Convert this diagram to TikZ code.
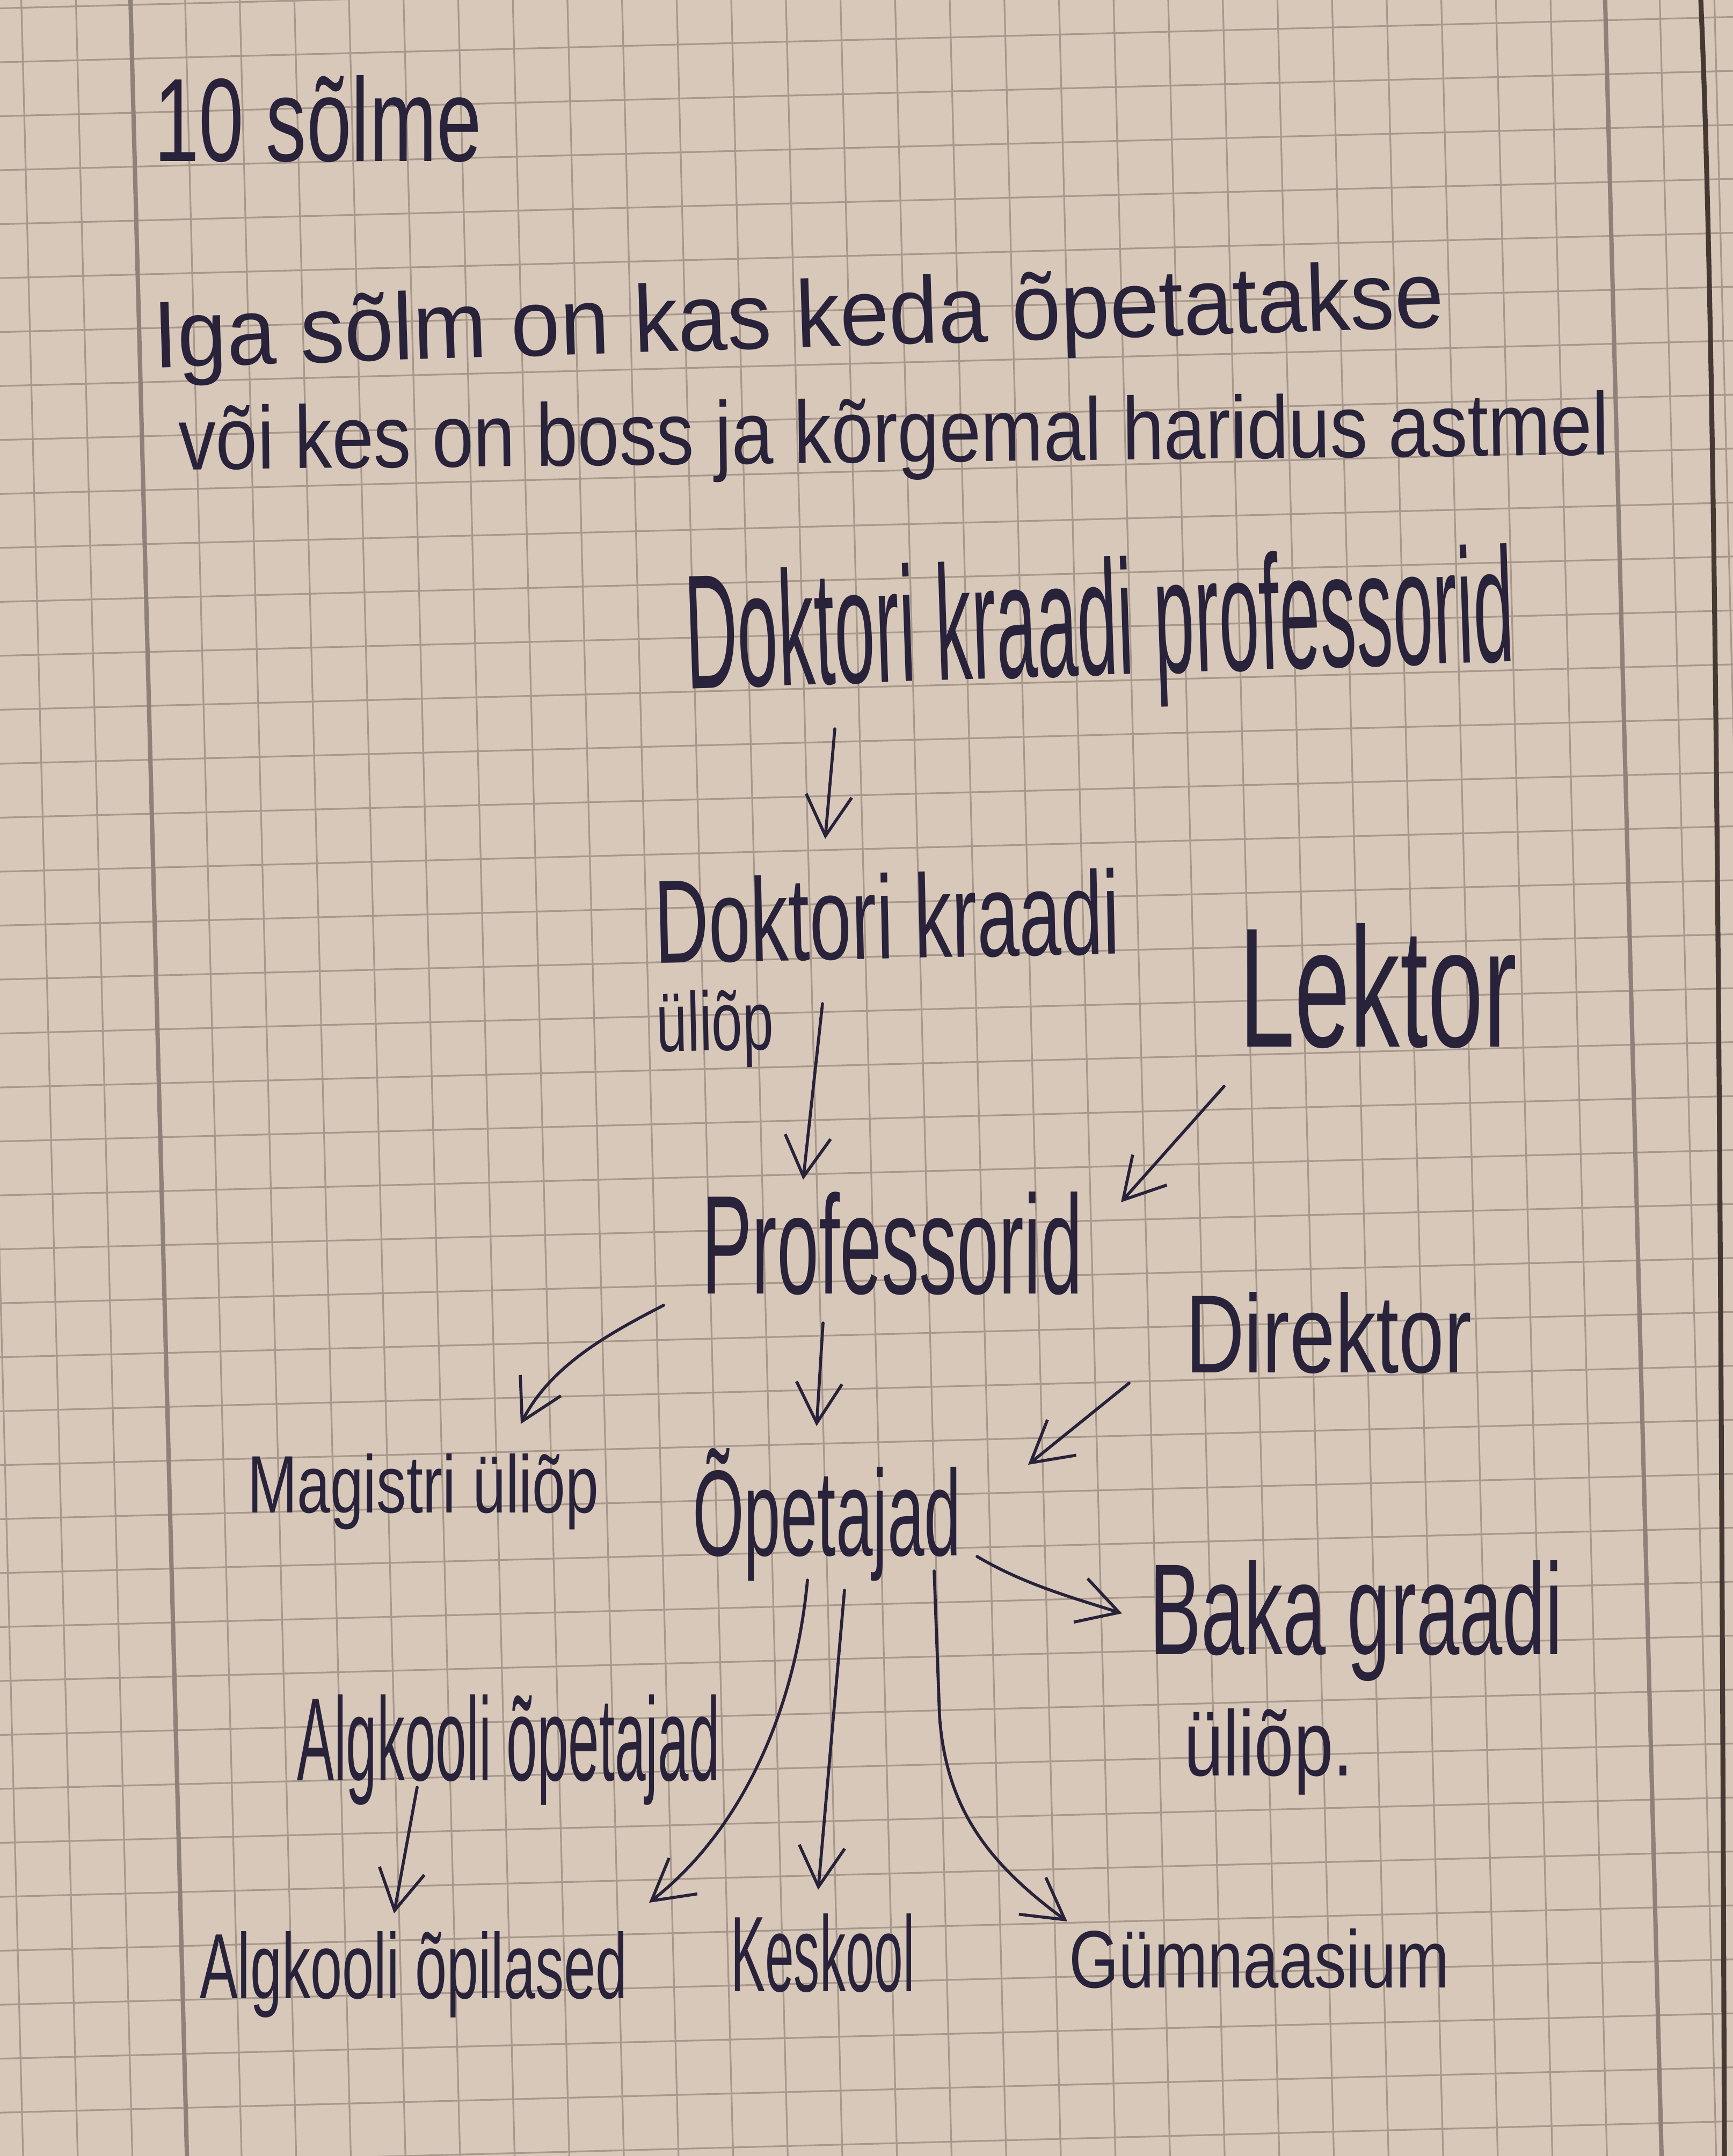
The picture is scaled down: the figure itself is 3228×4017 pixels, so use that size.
\documentclass[tikz,border=0pt]{standalone}
\usepackage{fontspec}
\usepackage{graphicx}
\setmainfont{Liberation Sans}
\usetikzlibrary{arrows.meta,calc}
\definecolor{paper}{RGB}{215,200,185}
\definecolor{gridc}{RGB}{168,152,140}
\definecolor{ink}{RGB}{40,34,58}
\definecolor{edgec}{RGB}{70,56,50}
\newlength\pxu
\setlength\pxu{0.01cm}
\newcommand{\hw}[3]{\resizebox{#1\pxu}{#2\pxu}{#3}}
\tikzset{
  txt/.style={ink, inner sep=0pt, outer sep=0pt, font=\fontsize{10}{12}\selectfont},
  arr/.style={ink, line width=1.6pt, line cap=round, -{Straight Barb[length=0.75cm,width=0.85cm]}},
  gridline/.style={gridc, line width=0.9pt},
  marginline/.style={gridc!85!black, line width=2.3pt}
}
\begin{document}
\begin{tikzpicture}[x=0.01cm,y=-0.01cm]
\useasboundingbox (0,0) rectangle (3228,4017);
\fill[paper] (0,0) rectangle (3228,4017);
% grid paper
\begin{scope}
\clip (0,0) rectangle (3228,4017);
\begin{scope}[rotate=1.5]
\foreach \k in {-4,...,32} \draw[gridline] ({243+101.7*\k},-400) -- ({243+101.7*\k},4500);
\foreach \k in {-4,...,44} \draw[gridline] (-400,{15.5+100.5*\k}) -- (3700,{15.5+100.5*\k});
\draw[marginline] (243,-400) -- (243,4500);
\draw[marginline] ({243+101.7*27},-400) -- ({243+101.7*27},4500);
\end{scope}
\draw[edgec, line width=2.6pt] (3168,0) .. controls (3195,600) and (3205,2000) .. (3212,4017);
\end{scope}

% texts
\node[txt, anchor=base west] (title) at (287,300) {\hw{610}{160}{10 sõlme}};
\node[txt, anchor=base west, rotate=1.8] (l1) at (287,685) {\hw{2405}{128}{Iga sõlm on kas keda õpetatakse}};
\node[txt, anchor=base west, rotate=0.6] (l2) at (333,875) {\hw{2665}{120}{või kes on boss ja kõrgemal haridus astmel}};

\node[txt, anchor=base west, rotate=1.9] (dkp) at (1279,1283) {\hw{1545}{220}{Doktori kraadi professorid}};
\node[txt, anchor=north west, rotate=1.2] (dku) at (1217,1635) {\begin{tabular}{@{}l@{}}\hw{867}{160}{Doktori kraadi}\\[39\pxu]\hw{218}{113}{üliõp}\end{tabular}};
\node[txt, anchor=base west] (lek) at (2308,1950) {\hw{517}{230}{Lektor}};
\node[txt, anchor=base west] (prof) at (1307,2410) {\hw{709}{190}{Professorid}};
\node[txt, anchor=base west] (dir) at (2208,2557) {\hw{533}{150}{Direktor}};
\node[txt, anchor=base west] (mag) at (461,2818) {\hw{654}{110}{Magistri üliõp}};
\node[txt, anchor=base west] (ope) at (1290,2898) {\hw{500}{200}{Õpetajad}};
\node[txt, anchor=north west] (baka) at (2141,2907) {\begin{tabular}{@{}l@{}}\hw{770}{175}{Baka graadi}\\[89\pxu]\hspace*{64\pxu}\hw{315}{125}{üliõp.}\end{tabular}};
\node[txt, anchor=base west] (aop) at (553,3317) {\hw{788}{160}{Algkooli õpetajad}};
\node[txt, anchor=base west] (aopl) at (372,3723) {\hw{797}{125}{Algkooli õpilased}};
\node[txt, anchor=base west] (kesk) at (1361,3710) {\hw{343}{145}{Keskool}};
\node[txt, anchor=base west] (gym) at (1991,3703) {\hw{709}{110}{Gümnaasium}};

% connectors
\draw[arr] ($(dkp.base west)+(276,75)$) -- ($(dku.north west)+(320,-72)$);
\draw[arr] ($(dku.north west)+(315,235)$) -- ($(prof.base west)+(189,-212)$);
\draw[arr] ($(lek.base west)+(-28,74)$) -- ($(prof.base west)+(781,-170)$);
\draw[arr] ($(prof.base west)+(-71,22)$) .. controls +(-107,55) and +(55,-107) .. ($(mag.base west)+(509,-165)$);
\draw[arr] ($(prof.base west)+(226,55)$) -- ($(ope.base west)+(231,-241)$);
\draw[arr] ($(dir.base west)+(-105,20)$) -- ($(ope.base west)+(625,-169)$);
\draw[arr] ($(ope.base west)+(530,2)$) .. controls +(86,51) and +(-95,-30) .. ($(baka.north west)+(-51,99)$);
\draw[arr] ($(ope.base west)+(214,46)$) .. controls +(-21,229) and +(181,-142) .. ($(aopl.base west)+(837,-178)$);
\draw[arr] ($(ope.base west)+(283,65)$) -- ($(kesk.base west)+(163,-189)$);
\draw[arr] ($(ope.base west)+(450,29)$) -- ++(10,270) .. controls +(12,170) and +(-150,-110) .. ($(gym.base west)+(-3,-123)$);
\draw[arr] ($(aop.base west)+(224,13)$) -- ($(aopl.base west)+(362,-158)$);
\end{tikzpicture}
\end{document}
